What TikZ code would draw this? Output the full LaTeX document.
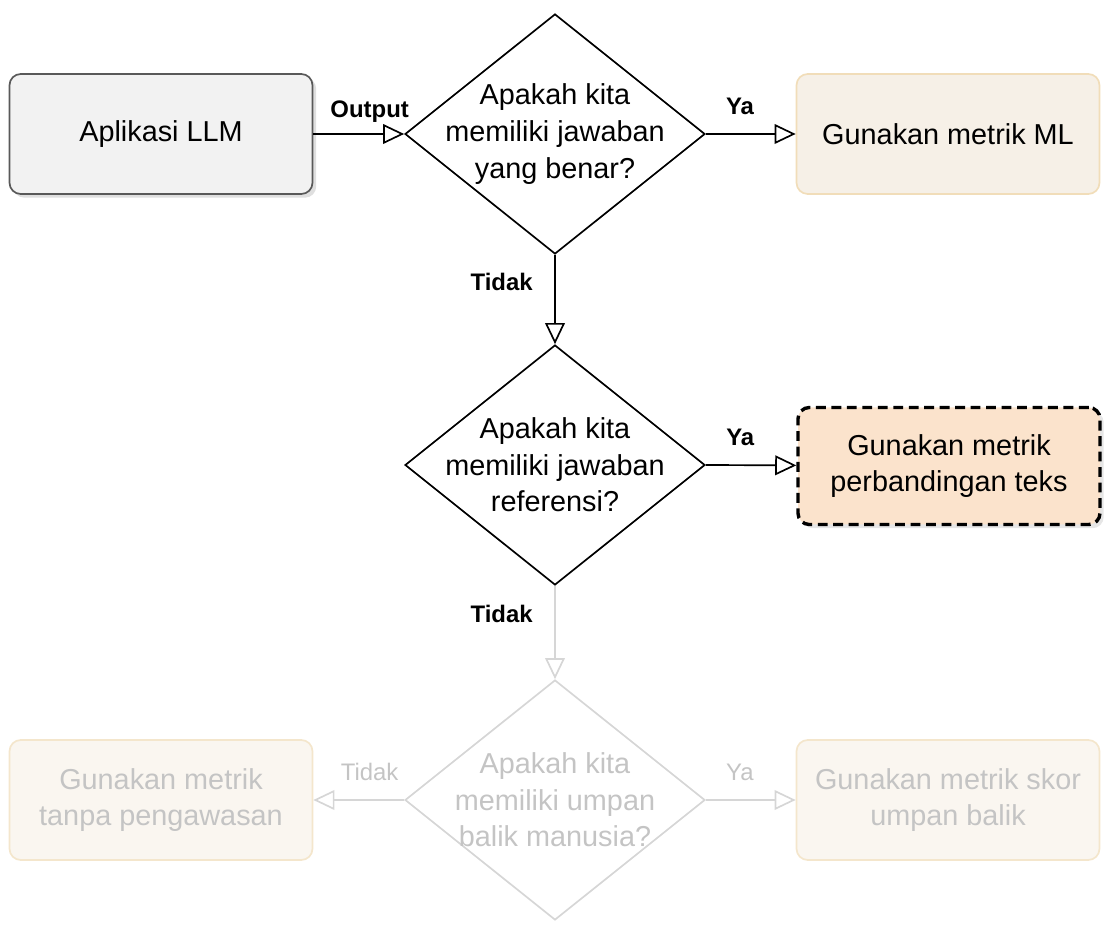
\documentclass[tikz,border=0pt]{standalone}
\usepackage{fontspec}
\setmainfont{Liberation Sans}
\usetikzlibrary{shapes.geometric,arrows.meta,shadows}
\definecolor{boxg}{HTML}{F2F2F2}
\definecolor{cream}{HTML}{F6F0E7}
\definecolor{creamb}{HTML}{F1DDB9}
\definecolor{peach}{HTML}{FBE3CC}
\definecolor{fadet}{HTML}{C4C4C4}
\definecolor{fadeb}{HTML}{D6D6D6}
\definecolor{fadecream}{HTML}{FAF6F0}
\definecolor{fadecb}{HTML}{F4E6CC}
\begin{document}
\begin{tikzpicture}[x=0.025cm,y=-0.025cm,
 txt/.style={font=\fontsize{20.5}{26}\selectfont,align=center},
 box/.style={txt,rounded corners=8pt,minimum width=303*0.025cm,minimum height=120*0.025cm,line width=1.2pt},
 dia/.style={txt,diamond,aspect=1.25,minimum width=300*0.025cm,minimum height=240*0.025cm,inner sep=0pt,line width=1.2pt,draw},
 arr/.style={line width=1.2pt,-{Triangle[open,length=15pt,width=14pt]}},
 lab/.style={font=\fontsize{17}{20}\selectfont\bfseries},
 flab/.style={font=\fontsize{17}{20}\selectfont,text=fadet}]
\useasboundingbox (0,0) rectangle (1120,944);
\node[box,draw=black!65,fill=boxg,drop shadow={opacity=0.25}] (app) at (161,134) {Aplikasi LLM};
\node[dia] (d1) at (555,134) {};
\node[txt] at (555,134) {Apakah kita\\memiliki jawaban\\yang benar?};
\node[box,draw=creamb,fill=cream] (ml) at (948,134) {Gunakan metrik ML};
\node[dia] (d2) at (555,465) {};
\node[txt] at (555,465) {Apakah kita\\memiliki jawaban\\referensi?};
\node[box,draw=black,line width=2.4pt,fill=peach,minimum width=302*0.025cm,minimum height=117*0.025cm,drop shadow={opacity=0.2},dash pattern=on 7pt off 4pt] (cmp) at (949,466) {Gunakan metrik\\perbandingan teks};
\node[dia,draw=fadeb] (d3) at (555,800) {};
\node[txt,text=fadet] at (555,800) {Apakah kita\\memiliki umpan\\balik manusia?};
\node[box,draw=fadecb,fill=fadecream,text=fadet] (uns) at (161,800) {Gunakan metrik\\tanpa pengawasan};
\node[box,draw=fadecb,fill=fadecream,text=fadet] (fb) at (948,800) {Gunakan metrik skor\\umpan balik};
\draw[arr] (app) -- node[lab,above=4pt,pos=0.62]{Output} (d1.west);
\draw[arr] (d1.east) -- node[lab,above=10pt,pos=0.38]{Ya} (ml);
\draw[arr] (d1.south) -- node[lab,left=12pt,pos=0.3]{Tidak} (d2.north);
\draw[arr] (d2.east) -- node[lab,above=10pt,pos=0.38]{Ya} (cmp);
\draw[arr,draw=fadeb] (d2.south) -- node[lab,left=12pt,pos=0.3,text=black]{Tidak} (d3.north);
\draw[arr,draw=fadeb] (d3.east) -- node[flab,above=10pt,pos=0.38]{Ya} (fb);
\draw[arr,draw=fadeb] (d3.west) -- node[flab,above=10pt,pos=0.38]{Tidak} (uns);
\end{tikzpicture}
\end{document}
